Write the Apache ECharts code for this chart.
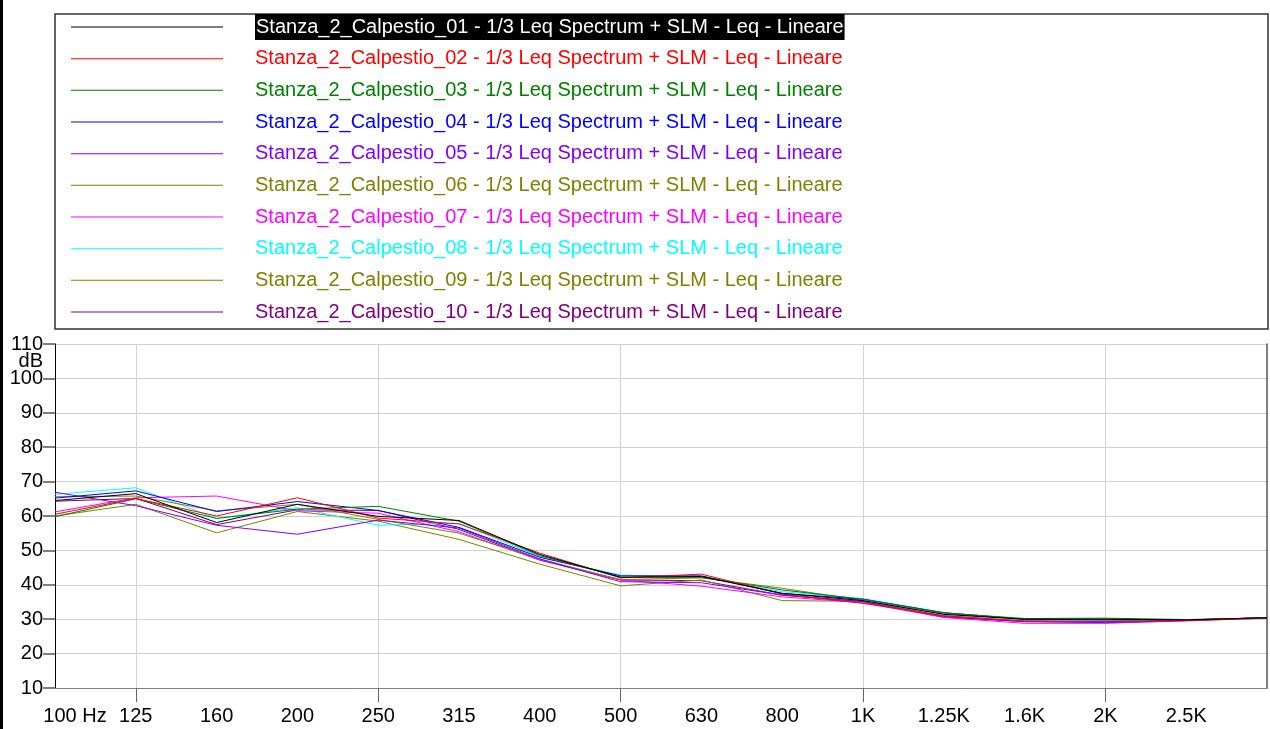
<!DOCTYPE html>
<html>
<head>
<meta charset="utf-8">
<title>Stanza 2 Calpestio - 1/3 Leq Spectrum</title>
<script src="https://cdn.jsdelivr.net/npm/echarts@6/dist/echarts.min.js"></script>
<style>
  html, body { margin: 0; padding: 0; background: #fff; }
  #chart { width: 1270px; height: 729px; }
</style>
</head>
<body>
<div id="chart"></div>
<script>
const freqs = ['100', '125', '160', '200', '250', '315', '400', '500', '630', '800', '1K', '1.25K', '1.6K', '2K', '2.5K', '3.15K'];
const freqLabels = ['100 Hz', '125', '160', '200', '250', '315', '400', '500', '630', '800', '1K', '1.25K', '1.6K', '2K', '2.5K', ''];
// octave marks get a tick and a vertical grid line
const octaveIdx = [1, 4, 7, 10, 13];
const yTicks = [10, 20, 30, 40, 50, 60, 70, 80, 90, 100, 110];

const runs = ['01', '02', '03', '04', '05', '06', '07', '08', '09', '10'];
const colors = ['#000000', '#ff0000', '#008000', '#0000ff', '#8000ff', '#808000', '#ff00ff', '#00ffff', '#808000', '#800080'];

const s01 = [64.5, 66.5, 58.1, 63.4, 59.9, 58.7, 48.8, 42.2, 42.4, 37.5, 35.4, 31.4, 30.0, 30.0, 29.8, 30.4];
const s02 = [60.5, 65.1, 60.0, 65.3, 59.4, 57.7, 49.2, 42.0, 43.1, 37.3, 34.6, 31.0, 29.5, 29.3, 29.6, 30.3];
const s03 = [59.8, 65.0, 59.3, 62.0, 62.8, 58.5, 48.5, 42.2, 42.2, 38.5, 35.8, 31.8, 30.2, 30.3, 29.9, 30.4];
const s04 = [65.2, 67.3, 61.3, 64.2, 61.6, 56.7, 48.0, 42.6, 42.6, 37.5, 35.8, 31.9, 30.0, 29.8, 29.8, 30.4];
const s05 = [66.9, 63.0, 57.3, 54.7, 58.8, 56.5, 47.5, 40.9, 40.6, 37.0, 35.1, 30.8, 29.3, 29.0, 29.6, 30.5];
const s06 = [65.6, 65.8, 61.5, 63.4, 59.0, 55.0, 47.5, 41.5, 42.0, 39.0, 35.4, 31.5, 30.0, 30.0, 29.8, 30.4];
const s07 = [61.2, 65.3, 65.8, 61.5, 60.8, 55.4, 47.2, 41.4, 39.6, 36.5, 34.8, 30.5, 28.8, 28.8, 29.5, 30.3];
const s08 = [66.3, 68.2, 59.3, 62.4, 57.3, 57.9, 48.2, 42.8, 42.2, 38.0, 36.0, 31.9, 29.8, 29.6, 29.7, 30.4];
const s09 = [60.0, 63.4, 55.1, 61.3, 58.5, 53.2, 46.0, 39.7, 41.4, 35.4, 35.2, 31.0, 29.5, 29.5, 29.7, 30.4];
const s10 = [64.3, 65.1, 57.5, 61.8, 61.6, 56.1, 47.2, 41.4, 41.2, 37.0, 35.1, 30.6, 29.3, 29.2, 29.7, 30.5];
const allSeries = [s01, s02, s03, s04, s05, s06, s07, s08, s09, s10];

const FONT = '"Liberation Sans", Arial, sans-serif';

const names = runs.map((r) => `Stanza_2_Calpestio_${r} - 1/3 Leq Spectrum + SLM - Leq - Lineare`);

const chart = echarts.init(document.getElementById('chart'), null, { renderer: 'canvas' });

const isOctave = (index) => octaveIdx.indexOf(index) >= 0;

const option = {
	animation: false,
	backgroundColor: '#fff',
	textStyle: { fontFamily: FONT },
	grid: { left: 55, right: 2, top: 344, bottom: 41, containLabel: false },
	legend: {
		orient: 'vertical',
		left: 71,
		top: 14,
		padding: 0,
		itemWidth: 152,
		itemHeight: 1,
		itemGap: 5.67,
		icon: 'rect',
		selectedMode: false,
		textStyle: {
			fontFamily: FONT,
			fontSize: 20,
			lineHeight: 26,
			rich: {
				pad: { width: 27, height: 26 },
				hl: { backgroundColor: '#000', color: '#fff', fontFamily: FONT, fontSize: 20, lineHeight: 26, height: 26, padding: [0, 1] },
			},
		},
		formatter: (name) => (name === names[0] ? `{pad|}{hl|${name}}` : `{pad|}${name}`),
		data: names.map((n, i) => ({
			name: n,
			textStyle: { color: i === 0 ? '#fff' : colors[i] },
		})),
	},
	xAxis: {
		type: 'category',
		data: freqs,
		boundaryGap: false,
		axisLine: { lineStyle: { color: '#808080', width: 1 } },
		axisTick: { show: true, interval: (i) => isOctave(i), length: 14, lineStyle: { color: '#666' } },
		splitLine: { show: true, interval: (i) => isOctave(i), lineStyle: { color: '#d0d0d0', width: 1 } },
		axisLabel: {
			interval: 0,
			margin: 18,
			color: '#000',
			fontFamily: FONT,
			fontSize: 20,
			formatter: (v, i) => (i === 0 ? `{first|${freqLabels[i]}}` : freqLabels[i]),
			rich: { first: { padding: [0, 0, 0, 40], fontFamily: FONT, fontSize: 20, color: '#000' } },
		},
	},
	yAxis: [
		{
			type: 'value',
			min: yTicks[0],
			max: yTicks[yTicks.length - 1],
			interval: 10,
			axisLine: { show: true, lineStyle: { color: '#000', width: 1 } },
			axisTick: { show: true, length: 12, lineStyle: { color: '#555', width: 1.5 } },
			splitLine: { show: true, lineStyle: { color: '#d0d0d0', width: 1 } },
			axisLabel: { margin: 12, color: '#000', fontFamily: FONT, fontSize: 20 },
		},
		{
			type: 'value',
			position: 'right',
			min: yTicks[0],
			max: yTicks[yTicks.length - 1],
			interval: 10,
			axisLine: { show: true, lineStyle: { color: '#555', width: 1.5 } },
			axisTick: { show: false },
			axisLabel: { show: false },
			splitLine: { show: false },
		},
	],
	series: allSeries.map((d, i) => ({
		name: names[i],
		type: 'line',
		data: d,
		yAxisIndex: 0,
		symbol: 'none',
		color: colors[i],
		lineStyle: { width: 1, color: colors[i] },
		emphasis: { disabled: true },
		z: 10 - i,
	})),
	graphic: [
		{
			type: 'rect',
			shape: { x: 55, y: 14, width: 1213, height: 315 },
			style: { fill: null, stroke: '#333', lineWidth: 1.5 },
			z: -1,
			silent: true,
		},
		{
			type: 'rect',
			shape: { x: 0, y: 0, width: 3, height: 729 },
			style: { fill: '#000' },
			silent: true,
		},
		{
			type: 'text',
			x: 43,
			y: 361,
			style: { text: 'dB', fill: '#000', font: '20px ' + FONT, textAlign: 'right', textVerticalAlign: 'middle' },
			silent: true,
		},
	],
};

chart.setOption(option);
</script>
</body>
</html>
